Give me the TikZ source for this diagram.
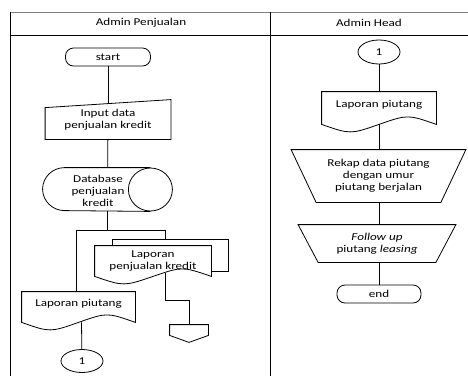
\documentclass[tikz,border=0pt]{standalone}
\usepackage{fontspec}
\setmainfont{Carlito}[FakeStretch=1.25]
\usetikzlibrary{shapes.geometric, calc, positioning}
\tikzstyle{box} = [rectangle, draw=none, inner sep=0pt, align=center, text centered]
\tikzstyle{terminal} = [rectangle, rounded corners=8pt, draw=black, minimum width=85pt, minimum height=18pt, text centered]
\tikzstyle{conn} = [ellipse, draw=black, minimum width=42pt, minimum height=23pt, inner sep=0pt]
\tikzstyle{line} = [draw=black, line width=0.8pt]

\newcommand{\drawdoc}[1]{\draw[line] (#1.north west) -- (#1.north east) -- (#1.south east)
  .. controls ($(#1.south east)!0.5!(#1.south)+(0,-10)$) .. (#1.south)
  .. controls ($(#1.south)!0.5!(#1.south west)+(0,10)$) .. (#1.south west) -- cycle;}
\newcommand{\drawmanin}[1]{\draw[line] ($(#1.north west)+(0,8)$) -- (#1.north east) -- (#1.south east) -- (#1.south west) -- cycle;}
\newcommand{\drawmanop}[2]{\draw[line] (#1.north west) -- (#1.north east) -- ($(#1.south east)+(-#2,0)$) -- ($(#1.south west)+(#2,0)$) -- cycle;}

\begin{document}
\begin{tikzpicture}[x=1pt, y=-1pt, font=\fontsize{10.5}{12}\selectfont, every node/.style={line width=0.8pt}]
\useasboundingbox (0,0) rectangle (468,376);
% swimlanes
\draw[gray, line width=0.8pt] (10,12) -- (468,12);
\draw[line] (10,35) -- (468,35);
\draw[line] (10,12) -- (10,376);
\draw[line] (270,12) -- (270,376);
\node (hdrA)[box] at (141,23) {Admin Penjualan};
\node (hdrB)[box] at (369,23) {Admin Head};

% Admin Penjualan
\node (start)[terminal] at (108,57) {start};
\node (input)[box, minimum width=125pt, minimum height=39pt] at (108,119.5) {Input data\\penjualan kredit};
\drawmanin{input}
\node (db)[box, minimum width=129pt, minimum height=43pt] at (107.5,189.5) {};
\draw[line] ($(db.north east)+(-22,0)$) -- ($(db.north west)+(22,0)$)
  arc[start angle=-90, end angle=-270, x radius=22, y radius=21.5] -- ($(db.south east)+(-22,0)$);
\draw[line] ($(db.east)+(-22,0)$) ellipse [x radius=22, y radius=21.5];
\node (dbtext)[box] at (98,191) {Database\\penjualan\\kredit};
\node (lapjual)[box, minimum width=116pt, minimum height=30pt] at (153,261) {Laporan\\penjualan kredit};
\draw[line] ($(lapjual.north west)+(18,0)$) |- ($(lapjual.north east)+(17,-6)$) |- ($(lapjual.south east)+(0,-5)$);
\drawdoc{lapjual}
\node (lap1)[box, minimum width=113pt, minimum height=30pt, text depth=8pt] at (78.5,307) {Laporan piutang};
\drawdoc{lap1}
\node (conn1)[conn] at (82,361) {1};
\node (offp)[box, minimum width=38pt, minimum height=17pt] at (189,333.5) {};
\draw[line] (offp.north west) -- (offp.north east) -- ($(offp.south east)+(0,-7)$) -- (offp.south) -- ($(offp.south west)+(0,-7)$) -- cycle;

\coordinate (split) at ($(db.south)+(0,19)$);
\draw[line] (start) -- (input.north |- 0,104);
\draw[line] (input) -- (db);
\draw[line] (db.south) -- (split);
\draw[line] (split) -| ($(lap1.north)+(-2,0)$);
\draw[line] (split) -| ($(lapjual.north)+(12,-6)$);
\draw[line] ($(lap1.south)+(3,0)$) -- (conn1);
\draw[line] ($(lapjual.south)+(12,-3)$) -- ++(0,27) -| (offp.north);

% Admin Head
\node (conn1b)[conn, minimum height=24pt] at (379,52) {1};
\node (lap2)[box, minimum width=114pt, minimum height=32pt, text depth=8pt] at (379,108) {Laporan piutang};
\drawdoc{lap2}
\node (rekap)[box, minimum width=174pt, minimum height=52pt] at (378.5,176) {Rekap data piutang\\dengan umur\\piutang berjalan};
\drawmanop{rekap}{25}
\node (follow)[box, minimum width=157pt, minimum height=37pt] at (377,243.5) {\textit{Follow up}\\piutang \textit{leasing}};
\drawmanop{follow}{20}
\node (endn)[terminal, minimum width=84pt] at (379,294) {end};

\draw[line] (conn1b) -- (lap2);
\draw[line] (lap2.south) -- (rekap.north -| lap2.south);
\draw[line] (rekap.south -| lap2.south) -- (follow.north -| lap2.south);
\draw[line] (follow.south -| lap2.south) -- (endn);
\end{tikzpicture}
\end{document}
